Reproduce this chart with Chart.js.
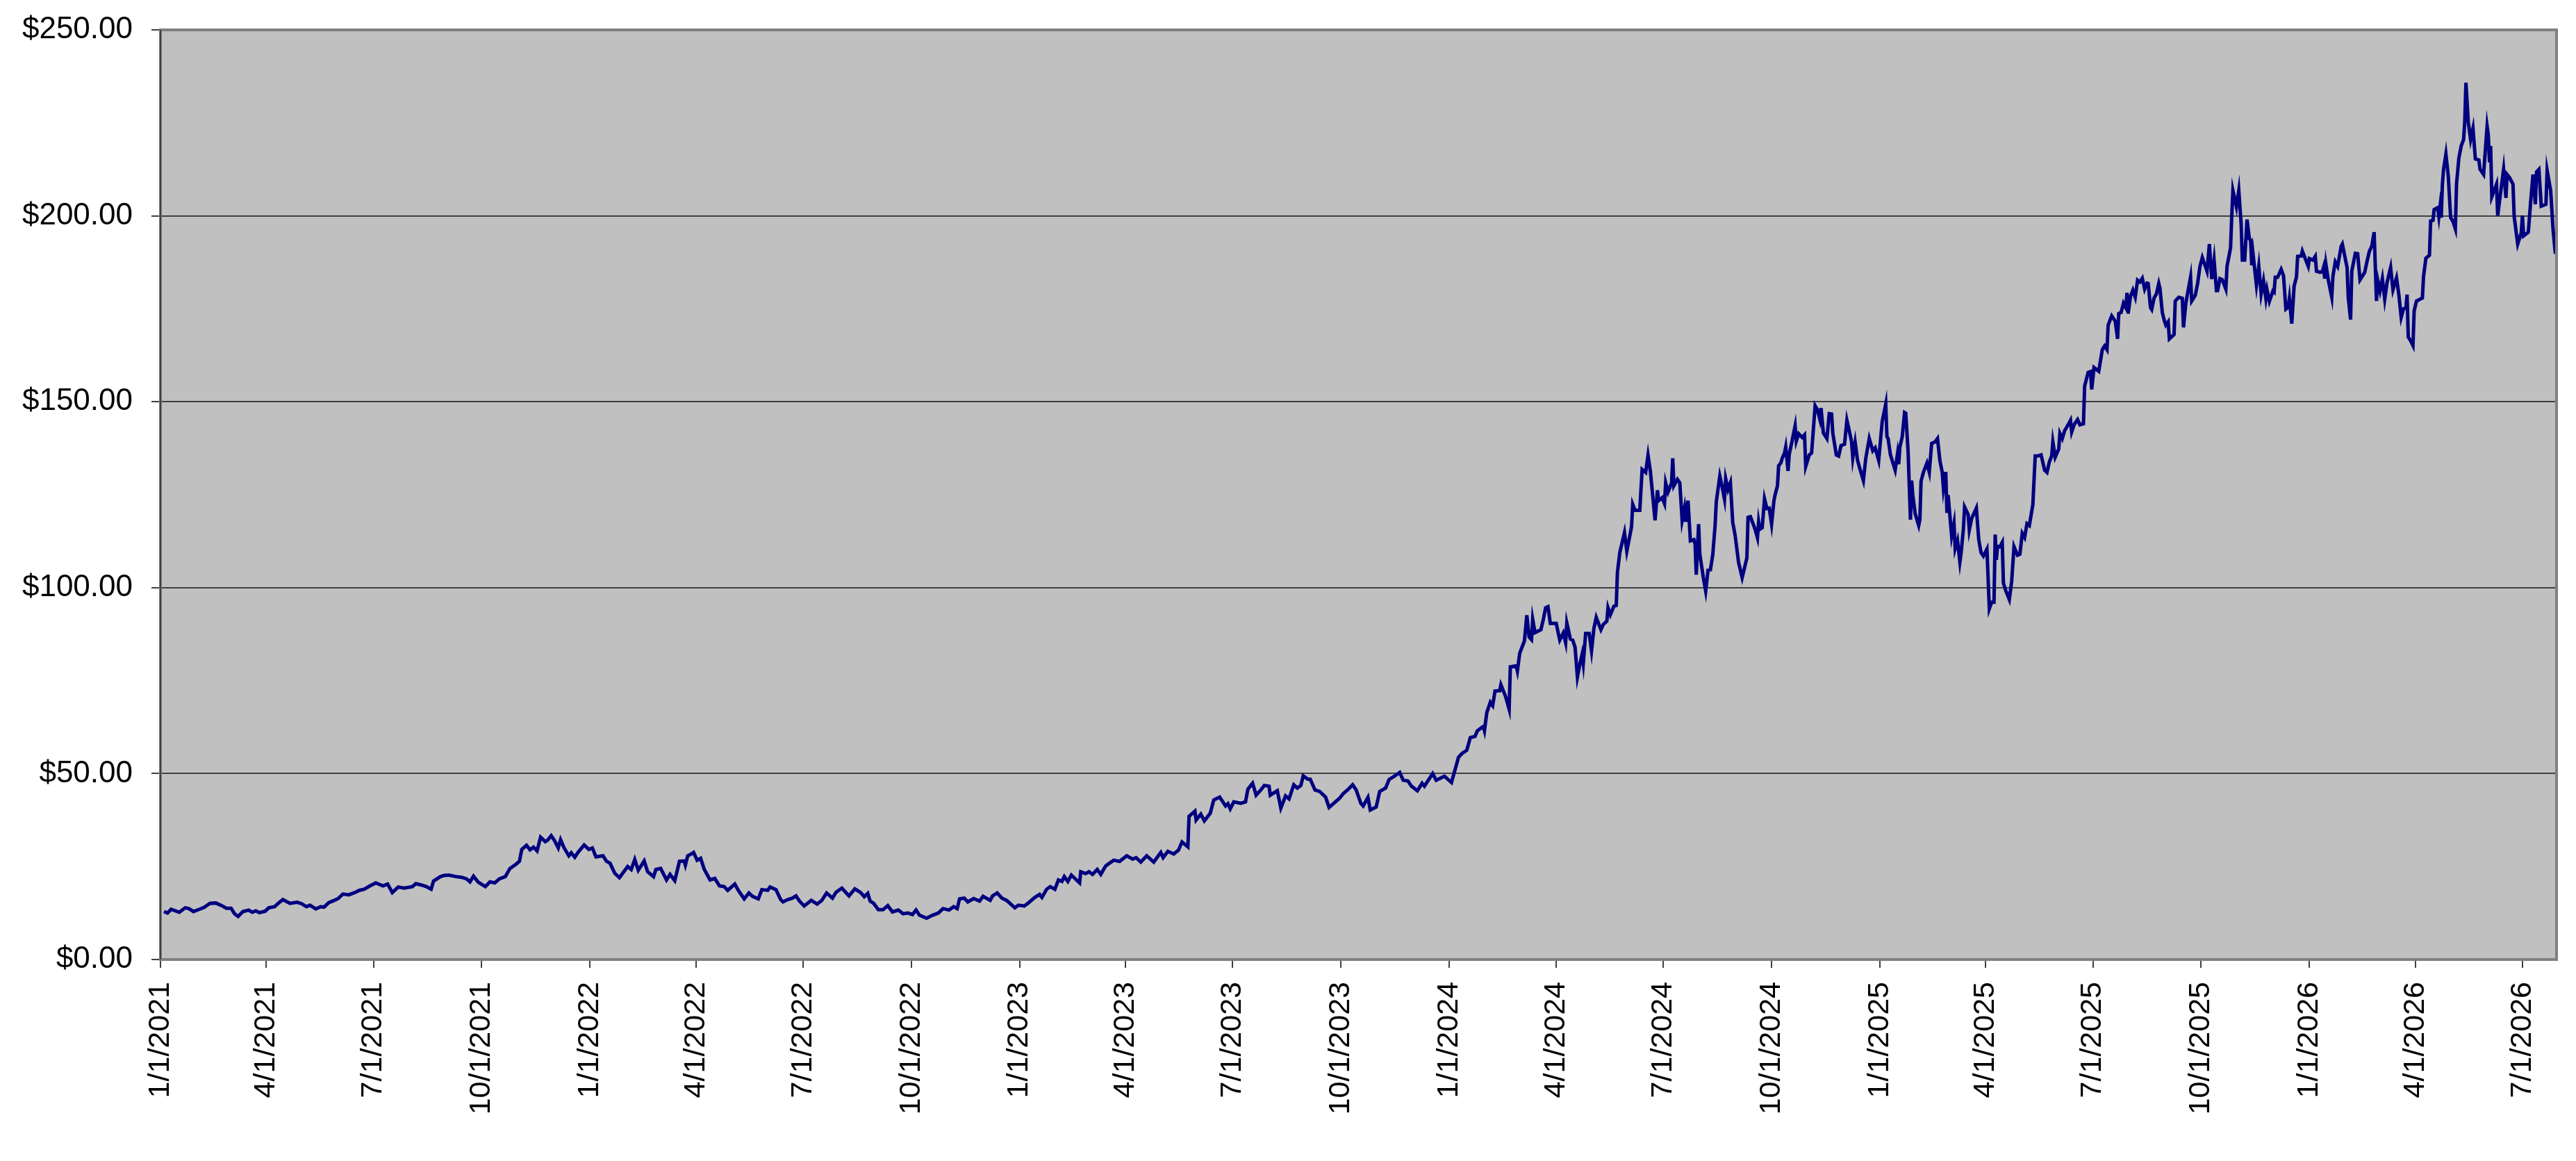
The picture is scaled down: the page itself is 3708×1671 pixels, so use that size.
<!DOCTYPE html>
<html>
<head>
<meta charset="utf-8">
<script src="https://cdn.jsdelivr.net/npm/chart.js@4.4.1/dist/chart.umd.min.js"></script>
<style>
html,body{margin:0;padding:0;background:#ffffff;}
#wrap{width:3708px;height:1671px;}
</style>
</head>
<body>
<div id="wrap"><canvas id="c" width="3708" height="1671"></canvas></div>
<script>
// ---------------- DATA ----------------
const startDate = '1/1/2021';
const tickLabels = ['1/1/2021','4/1/2021','7/1/2021','10/1/2021','1/1/2022','4/1/2022','7/1/2022','10/1/2022',
  '1/1/2023','4/1/2023','7/1/2023','10/1/2023','1/1/2024','4/1/2024','7/1/2024','10/1/2024',
  '1/1/2025','4/1/2025','7/1/2025','10/1/2025','1/1/2026','4/1/2026','7/1/2026'];
const yTickValues = [0, 50, 100, 150, 200, 250];
const xAxisEndDay = 2036; // last day shown (days after startDate)

// days after startDate
const tradingDay = [
3,6,9,16,21,24,28,33,37,42,47,52,56,60,63,66,70,75,78,81,84,89,92,97,100,104,110,116,120,124,127,132,136,139,143,147,151,155,160,165,169,173,178,183,189,193,197,202,207,214,217,222,226,230,232,238,241,245,251,256,260,263,266,270,276,280,284,288,293,297,302,305,307,311,314,317,320,323,327,329,332,335,338,340,343,347,349,352,355,360,364,367,370,376,379,382,386,390,393,397,400,403,406,
411,414,419,421,425,430,433,437,441,445,446,448,450,453,456,459,462,467,471,475,479,482,488,491,496,500,503,508,511,516,518,523,527,529,533,537,540,543,547,553,558,562,566,571,574,579,585,590,595,598,601,603,606,610,614,618,622,627,631,635,639,642,645,651,656,661,665,670,674,677,679,683,686,691,696,699,705,707,711,715,719,726,729,734,737,743,747,749,753,756,760,763,766,768,771,774,781,782,786,789,792,796,799,803,805,
810,815,821,826,829,833,838,844,850,852,856,861,865,868,873,874,879,880,884,887,892,895,900,905,907,909,912,918,922,924,928,931,935,938,942,943,949,952,956,959,963,966,969,971,975,977,981,985,990,993,997,1002,1005,1009,1013,1016,1020,1022,1026,1028,1033,1036,1041,1044,1048,1053,1056,1060,1063,1068,1072,1074,1081,1084,1091,1097,
1103,1106,1110,1113,1117,1119,1124,1125,1127,1130,1132,1134,1138,1139,1143,1146,1147,1152,1153,1155,1159,1161,1163,1165,1166,1168,1173,1175,1177,1179,1181,1186,1189,1192,1194,1195,1198,1200,1202,1204,1206,1208,1209,1211,1214,1216,1218,1220,1224,1226,1229,1230,1232,1235,1237,1238,1240,1244,1246,1249,1250,1251,1253,1257,1259,1262,1264,1266,1270,1272,1273,1276,1278,1279,1281,1284,1285,1286,1289,1291,1293,1295,1296,1298,1300,1303,1304,1305,1307,1308,1311,1313,1315,1317,1319,1321,1322,1325,1327,1329,1330,1332,1334,1336,1338,1341,1342,1344,1348,1349,1351,1355,1357,1358,1359,1361,1363,1365,1367,1369,1371,1372,1374,1375,1377,1378,1380,1381,1383,1384,1386,1389,1390,1392,1395,1397,1398,1401,1403,1406,1408,1410,1411,1413,1416,1418,1420,1421,
1424,1426,1428,1431,1433,1435,1437,1438,1440,1442,1444,1447,1449,1452,1455,1457,1460,1463,1466,1467,1468,1470,1474,1476,1477,1478,1480,1482,1483,1485,1486,1487,1488,1489,1491,1494,1495,1496,1498,1501,1503,1505,1508,1510,1512,1514,1515,1517,1518,1519,1522,1524,1525,1527,1529,1530,1532,1533,1536,1537,1539,1543,1545,1547,1549,1552,1554,1556,1558,1559,1560,1561,1563,1565,1566,1568,1571,1573,1575,1578,1580,1582,1584,1586,1588,1591,1593,1595,1598,1601,1603,1605,1607,1608,1610,1613,1614,1616,1618,1621,1623,1624,1626,1629,1631,1634,1635,1638,1640,1641,1643,1647,1650,1652,1654,
1655,1658,1661,1663,1664,1666,1668,1670,1671,1672,1674,1676,1678,1680,1682,1684,1686,1688,1689,1691,1692,1694,1696,1698,1699,1701,1703,1704,1706,1707,1711,1712,1715,1718,1719,1721,1725,1726,1729,1731,
1733,1735,1739,1741,1743,1745,1747,1748,1750,1752,1755,1756,1759,1760,1761,1764,1766,1768,1769,1771,1773,1775,1776,1777,1778,1781,1783,1785,1787,1789,1790,1792,1795,1796,1797,1799,1802,1804,1806,1808,1809,1811,1813,1815,1816,1819,1820,1825,1826,1829,1831,1832,1835,1837,1838,1839,1840,1842,1845,1846,1848,1850,1853,1854,1858,1859,1861,1862,1865,1867,1869,1871,1873,1875,1877,1879,1881,1883,1884,1886,1888,1890,1892,1895,1897,1900,1902,1904,1906,1908,1909,1910,1912,1914,1915,1917,1919,1922,1923,1925,1928,1929,1931,1932,1935,1936,1937,1938,1939,1940,1942,1944,1946,1948,1950,1951,1953,1955,1957,1958,1959,1961,1963,1965,1967,1970,1971,1974,1976,1977,1978,1979,1980,1981,1985,1986,1988,1991,1993,1994,1996,1999,2000,2003,2006,2007,2008,2012,2014,2016,2018,2019,2021,2023,2027,2028,2031,2033,2035,2036
];

const closePrice = [
12.9,12.5,13.5,12.7,13.9,13.7,12.9,13.5,14.0,15.1,15.2,14.5,13.8,13.8,12.3,11.6,12.9,13.3,12.7,13.1,12.6,13.0,13.9,14.2,15.1,16.1,15.1,15.4,15.0,14.2,14.6,13.6,14.2,14.1,15.3,15.8,16.4,17.6,17.4,18.0,18.6,18.9,19.8,20.6,19.8,20.3,18.0,19.5,19.2,19.6,20.4,20.0,19.6,18.9,21.1,22.3,22.6,22.7,22.3,22.1,21.7,20.9,22.4,20.8,19.6,20.9,20.6,21.7,22.3,24.5,25.6,26.4,29.6,30.7,29.5,30.2,29.2,32.9,31.7,32.1,33.3,31.9,30.0,32.2,30.0,27.9,28.7,27.5,28.9,30.8,29.6,30.0,27.6,27.9,26.4,25.9,23.2,22.0,23.3,25.0,24.2,26.9,24.0,
26.5,23.6,22.3,24.2,24.5,21.4,22.9,21.2,26.4,26.5,25.4,27.9,28.2,28.8,26.7,27.2,24.3,21.4,21.8,19.8,19.6,18.6,20.3,18.6,16.3,17.9,17.0,16.3,18.8,18.6,19.5,18.8,16.1,15.5,16.1,16.5,17.1,15.7,14.4,15.9,14.9,15.9,17.9,16.5,18.1,19.2,17.1,19.0,18.0,16.9,17.8,15.7,15.1,13.4,13.4,14.5,12.8,13.3,12.3,12.5,12.1,13.3,11.9,11.1,11.9,12.5,13.7,13.3,14.2,13.7,16.3,16.5,15.5,16.4,15.7,17.0,15.9,17.1,17.9,16.5,15.9,13.9,14.6,14.4,15.1,16.7,17.5,16.7,18.9,19.6,18.9,21.4,21.0,22.3,21.0,22.7,20.6,23.6,23.1,23.6,22.9,24.2,22.9,25.1,25.6,
26.7,26.4,27.9,27.0,27.4,26.2,27.9,26.2,28.8,27.4,29.1,28.4,29.4,31.6,30.3,38.5,39.9,37.5,39.1,37.3,39.3,42.9,43.7,41.3,41.9,40.5,42.4,42.0,42.4,45.8,47.4,44.2,45.6,46.8,46.6,44.2,45.4,40.7,44.0,43.2,47.0,46.1,46.8,49.4,48.5,48.5,45.6,45.2,43.7,40.9,42.0,43.4,44.6,45.7,47.0,45.6,42.0,41.3,43.6,40.2,41.0,45.2,46.1,48.4,49.2,50.3,48.2,48.0,46.6,45.4,47.4,46.6,50.0,48.2,49.3,47.6,
54.4,55.4,56.3,59.7,60.0,61.5,62.7,61.5,66.4,69.2,68.3,72.2,72.3,73.9,70.7,67.3,78.7,79.0,77.6,82.4,85.7,92.6,86.7,86.0,91.5,87.9,88.7,91.4,94.6,94.9,90.4,90.4,85.9,87.8,85.2,90.5,86.2,85.9,84.0,76.0,79.3,82.1,79.6,87.7,87.7,83.0,89.0,92.0,88.7,90.1,91.0,94.6,92.7,95.0,95.2,104.1,109.4,114.8,109.8,114.7,116.4,122.4,120.8,120.8,131.8,131.0,135.6,131.3,118.1,126.2,123.4,124.2,122.6,128.2,125.7,128.1,134.8,127.4,129.1,128.2,118.1,121.4,117.7,123.4,112.6,112.9,111.7,103.5,117.1,109.0,102.7,99.1,104.7,104.8,108.8,116.7,123.1,130.0,127.1,123.8,129.3,126.4,128.2,117.5,114.1,106.7,105.4,102.7,108.0,118.9,119.1,115.7,113.4,117.7,115.7,116.1,123.9,121.3,121.4,117.1,123.4,125.0,127.4,132.8,133.6,134.8,136.2,137.8,131.4,135.9,138.8,143.5,139.4,141.4,140.4,141.1,132.6,135.7,136.2,148.9,147.8,145.3,148.3,141.6,140.1,146.8,146.7,141.6,
135.7,135.4,138.2,138.6,145.0,142.2,139.2,134.9,139.1,134.3,132.0,128.8,134.7,140.1,136.8,137.6,134.2,144.7,149.4,140.6,140.1,135.7,131.6,136.0,133.2,137.8,140.6,147.1,146.9,136.6,127.3,118.3,128.8,124.8,119.9,116.7,118.3,128.6,131.0,133.5,131.0,138.8,139.2,140.1,134.2,131.0,126.7,131.1,120.1,124.9,113.9,117.3,110.5,112.7,106.9,109.2,115.8,121.7,119.7,115.5,118.6,121.4,113.0,109.4,108.5,110.4,94.3,96.1,96.1,114.3,107.5,111.1,111.0,112.2,101.2,99.2,96.8,101.7,111.0,108.7,109.0,114.6,113.5,117.2,116.7,122.3,135.4,135.4,135.7,131.6,131.0,133.8,135.4,139.2,135.1,137.3,141.5,140.1,142.2,143.8,145.0,141.9,143.8,145.2,143.8,144.1,154.2,157.9,158.1,153.3,159.2,158.2,164.0,165.0,164.0,
170.6,173.1,171.7,166.9,173.7,174.0,176.5,175.3,179.3,173.7,178.4,180.0,178.1,182.7,182.2,183.2,180.3,181.9,181.8,175.3,174.8,177.9,179.0,181.8,180.5,174.0,171.5,170.6,171.5,166.9,168.1,177.1,178.1,177.8,170.0,176.5,183.5,177.1,178.6,181.8,
186.4,188.8,185.1,192.4,183.0,188.1,179.9,179.9,183.1,182.8,180.3,186.4,191.4,199.8,206.8,202.4,206.8,197.8,188.1,188.1,199.0,193.8,193.5,186.7,190.0,181.4,186.4,179.0,182.5,177.8,180.1,177.0,179.8,179.5,183.5,183.5,185.6,183.9,174.9,175.4,177.8,171.0,181.1,183.5,189.1,189.2,190.5,186.4,188.5,188.1,189.1,185.1,184.8,185.0,186.1,183.1,187.0,182.8,178.1,183.8,187.6,186.4,191.8,192.4,186.1,178.1,172.1,185.1,189.9,189.8,182.8,183.8,184.8,187.8,190.5,191.8,195.6,177.1,182.8,179.8,183.1,177.6,182.1,186.1,180.1,183.3,178.8,172.7,175.0,175.2,178.8,167.4,166.4,165.1,174.4,177.1,177.4,177.9,183.8,188.6,189.4,198.6,198.8,201.7,202.2,199.8,202.5,199.5,208.5,212.5,216.6,210.7,199.5,198.5,196.5,208.5,215.5,218.8,220.5,225.2,235.8,225.2,220.5,223.5,215.3,215.0,212.5,211.1,219.8,224.1,221.8,214.4,218.8,205.1,208.5,200.1,205.1,212.5,204.8,211.1,210.3,208.5,199.8,192.4,195.4,200.1,194.6,195.6,203.8,211.1,203.1,211.8,212.5,202.6,203.1,212.2,206.8,196.5,189.8,195.2
];

// ---------------- HELPERS ----------------
function dayOffset(label) {
  const [m, d, y] = label.split('/').map(Number);
  const [m0, d0, y0] = startDate.split('/').map(Number);
  return Math.round((Date.UTC(y, m - 1, d) - Date.UTC(y0, m0 - 1, d0)) / 86400000);
}
const tickDays = tickLabels.map(dayOffset);
const points = tradingDay.map((d, i) => ({ x: d, y: closePrice[i] }));
const FONT = "'Liberation Sans', Arial, sans-serif";

const plotFrame = {
  id: 'plotFrame',
  beforeDraw(chart) {
    const { ctx, chartArea: a } = chart;
    ctx.save();
    ctx.fillStyle = '#ffffff';
    ctx.fillRect(0, 0, chart.width, chart.height);
    ctx.fillStyle = '#c0c0c0';
    ctx.fillRect(a.left, a.top, a.right - a.left, a.bottom - a.top);
    ctx.restore();
  },
  afterDraw(chart) {
    const { ctx, chartArea: a } = chart;
    ctx.save();
    ctx.strokeStyle = '#808080';
    ctx.lineWidth = 4;
    ctx.strokeRect(a.left, a.top, a.right - a.left, a.bottom - a.top);
    ctx.strokeStyle = '#404040';
    ctx.lineWidth = 2;
    ctx.beginPath();
    ctx.moveTo(a.left, a.top);
    ctx.lineTo(a.left, a.bottom);
    ctx.stroke();
    ctx.restore();
  }
};

new Chart(document.getElementById('c'), {
  type: 'line',
  data: {
    datasets: [{
      data: points,
      borderColor: '#000080',
      borderWidth: 5,
      pointRadius: 0,
      tension: 0,
      fill: false
    }]
  },
  options: {
    responsive: false,
    devicePixelRatio: 1,
    animation: false,
    layout: { padding: { top: 43, right: 28, left: 0, bottom: 0 } },
    plugins: { legend: { display: false }, tooltip: { enabled: false }, title: { display: false } },
    scales: {
      x: {
        type: 'linear',
        min: 0,
        max: xAxisEndDay,
        afterBuildTicks: s => { s.ticks = tickDays.map(v => ({ value: v })); },
        afterFit: s => { s.height = 290; s.paddingLeft = 0; s.paddingRight = 0; },
        grid: { drawOnChartArea: false, drawTicks: true, tickLength: 12, color: '#404040', lineWidth: 2 },
        border: { display: false },
        ticks: {
          autoSkip: false, maxRotation: 90, minRotation: 90, padding: 20, color: '#000000',
          font: { family: FONT, size: 43 },
          callback: (v, i) => tickLabels[i]
        }
      },
      y: {
        min: 0,
        max: 250,
        afterBuildTicks: s => { s.ticks = yTickValues.map(v => ({ value: v })); },
        afterFit: s => { s.width = 231; s.paddingTop = 0; s.paddingBottom = 0; },
        grid: { color: '#404040', lineWidth: 2, tickLength: 13, drawTicks: true },
        border: { display: false },
        ticks: {
          padding: 27, color: '#000000',
          font: { family: FONT, size: 44 },
          callback: v => '$' + Number(v).toFixed(2)
        }
      }
    }
  },
  plugins: [plotFrame]
});
</script>
</body>
</html>
